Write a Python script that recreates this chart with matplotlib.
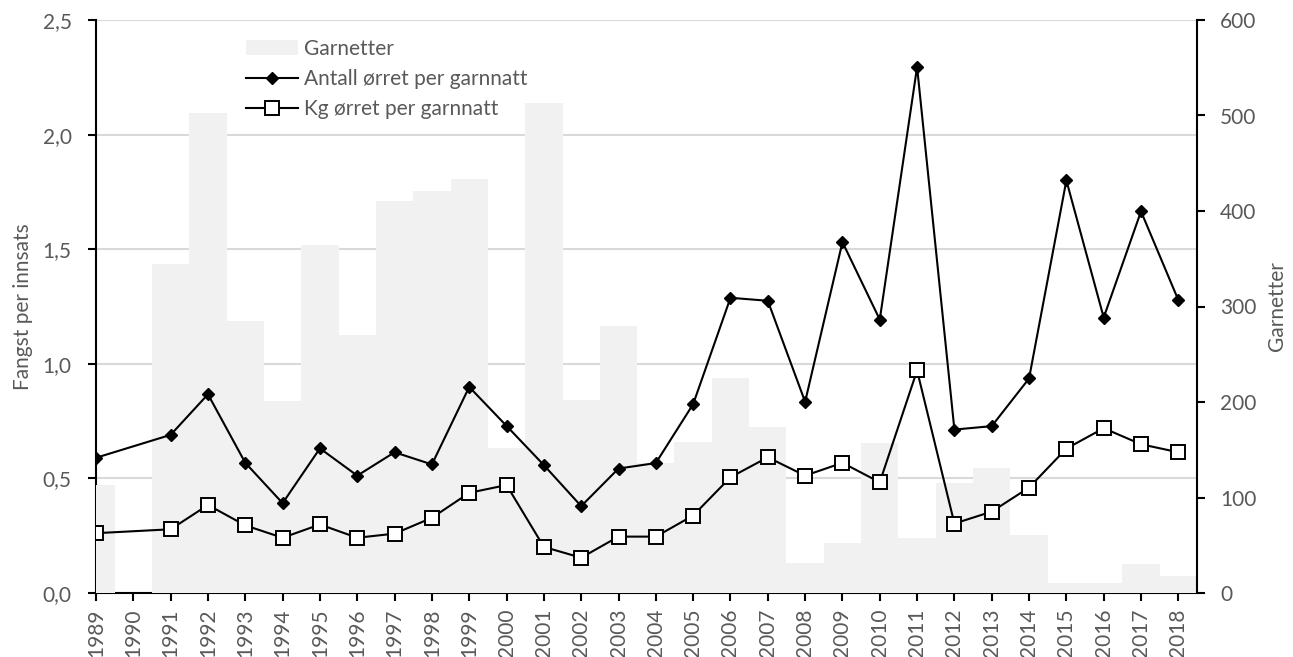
import matplotlib
matplotlib.use("Agg")
import matplotlib.pyplot as plt
import numpy as np

plt.rcParams['font.family'] = ['Lato', 'DejaVu Sans']

years = [str(y) for y in range(1989, 2019)]
garnetter = [113, 0, 344, 503, 285, 201, 364, 270, 410, 421, 434, 152, 513, 202, 280,
             136, 158, 225, 174, 31, 52, 157, 58, 115, 131, 61, 10, 10, 30, 18]
antall = [0.59, np.nan, 0.69, 0.867, 0.568, 0.392, 0.631, 0.512, 0.614, 0.561, 0.899, 0.729,
          0.558, 0.379, 0.543, 0.567, 0.824, 1.288, 1.275, 0.834, 1.531, 1.193, 2.295,
          0.713, 0.728, 0.936, 1.80, 1.202, 1.665, 1.278]
kg = [0.261, np.nan, 0.278, 0.384, 0.295, 0.241, 0.299, 0.241, 0.259, 0.328, 0.437, 0.471,
      0.201, 0.154, 0.246, 0.246, 0.338, 0.505, 0.592, 0.512, 0.568, 0.483, 0.971,
      0.303, 0.355, 0.46, 0.63, 0.719, 0.649, 0.614]

left_ticks = [0.0, 0.5, 1.0, 1.5, 2.0, 2.5]
left_ticklabels = ["0,0", "0,5", "1,0", "1,5", "2,0", "2,5"]
right_ticks = [0, 100, 200, 300, 400, 500, 600]

TXT = "#595959"
FS = 15

fig = plt.figure(figsize=(12.93, 6.57), dpi=100)
ax1 = fig.add_axes([96/1293, 64/657, 1101/1293, 573/657])
ax2 = ax1.twinx()
ax3 = ax1.twinx()

x = np.arange(len(years))
valid = ~np.isnan(np.array(antall))

ax1.set_ylim(0, 2.5)
ax1.set_yticks(left_ticks)
ax1.set_yticklabels(left_ticklabels)
ax1.yaxis.grid(True, color="#D9D9D9", linewidth=1.5)
ax1.set_axisbelow(True)
ax1.set_xlim(0, len(years) - 0.5)
ax1.set_xticks(x)
ax1.set_xticklabels(years, rotation=90)
ax1.set_ylabel("Fangst per innsats", color=TXT, fontsize=FS, labelpad=7)

bars = ax2.bar(x, garnetter, width=1.0, color="#F1F1F1", linewidth=0, zorder=1)
ax2.set_ylim(0, 600)
ax2.set_yticks(right_ticks)
ax2.set_ylabel("Garnetter", color=TXT, fontsize=FS, labelpad=8)

ax3.set_ylim(0, 2.5)
l1, = ax3.plot(x[valid], np.array(antall)[valid], color="black", lw=1.5, marker="D",
               ms=6.5, mfc="black", mec="black")
l2, = ax3.plot(x[valid], np.array(kg)[valid], color="black", lw=1.5, marker="s",
               ms=10.5, mfc="white", mec="black", mew=1.4)
ax3.set_yticks([])
for s in ax3.spines.values():
    s.set_visible(False)

for a in (ax1, ax2):
    a.spines['top'].set_visible(False)
    a.tick_params(colors=TXT, labelsize=FS, length=5.5, width=1.5)
    for s in a.spines.values():
        s.set_linewidth(1.5)
        s.set_color("black")
    a.tick_params(axis='both', color="black")
ax2.spines['left'].set_visible(False)
ax2.spines['bottom'].set_visible(False)
ax1.spines['right'].set_visible(False)
ax1.tick_params(axis='x', pad=6)
ax1.tick_params(axis='y', pad=12)
ax2.tick_params(axis='y', pad=11)

leg = ax3.legend([bars, l1, l2], ["Garnetter", "Antall ørret per garnnatt", "Kg ørret per garnnatt"],
                 loc="upper left", bbox_to_anchor=(0.136, 0.9675), frameon=False,
                 fontsize=FS, handlelength=2.5, handletextpad=0.3, labelspacing=0.5,
                 borderpad=0, borderaxespad=0, handleheight=0.7)
for t in leg.get_texts():
    t.set_color(TXT)

fig.savefig("out.png", dpi=100)
